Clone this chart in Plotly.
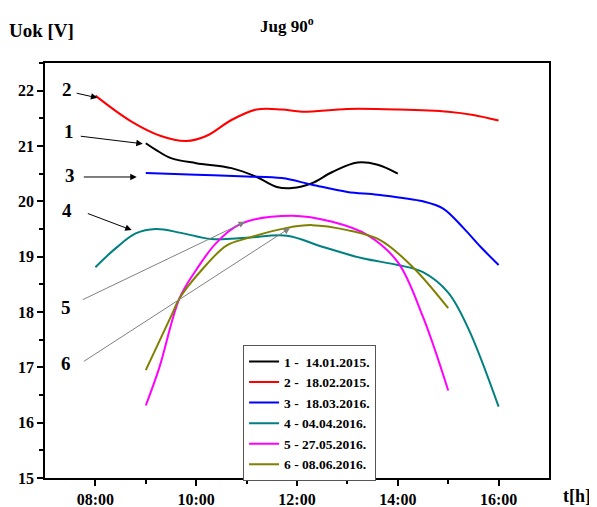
import plotly.graph_objects as go

# ---- data (hours, volts) ----
labels = ["1 - \u00a014.01.2015.", "2 - \u00a018.02.2015.", "3 - \u00a018.03.2016.",
          "4 - 04.04.2016.", "5 - 27.05.2016.", "6 - 08.06.2016."]
colors = ["#000000", "#ff0000", "#0000ff", "#008080", "#ff00ff", "#808000"]

t1 = [9.0, 9.2, 9.5, 10.0, 10.7, 11.2, 11.6, 11.9, 12.3, 12.7, 13.2, 13.6, 14.0]
u1 = [21.05, 20.93, 20.78, 20.69, 20.60, 20.44, 20.26, 20.24, 20.33, 20.53, 20.70, 20.66, 20.50]

t2 = [8.0, 8.7, 9.3, 9.8, 10.2, 10.7, 11.2, 11.7, 12.1, 13.0, 14.0, 15.0, 15.5, 16.0]
u2 = [21.91, 21.45, 21.18, 21.09, 21.18, 21.47, 21.66, 21.66, 21.62, 21.67, 21.66, 21.62, 21.56, 21.46]

t3 = [9.0, 10.0, 11.0, 11.7, 12.3, 13.0, 13.6, 14.5, 14.9, 15.3, 15.65, 16.0]
u3 = [20.51, 20.48, 20.45, 20.42, 20.30, 20.17, 20.12, 20.00, 19.87, 19.52, 19.17, 18.85]

t4 = [8.0, 8.4, 8.8, 9.2, 9.7, 10.3, 11.0, 11.8, 12.5, 13.3, 14.0, 14.5, 15.0, 15.4, 16.0]
u4 = [18.81, 19.15, 19.42, 19.50, 19.43, 19.32, 19.34, 19.38, 19.18, 18.97, 18.85, 18.72, 18.35, 17.70, 16.29]

t5 = [9.0, 9.27, 9.67, 10.0, 10.4, 10.9, 11.9, 12.7, 13.4, 14.0, 14.5, 15.0]
u5 = [16.31, 17.00, 18.25, 18.76, 19.25, 19.60, 19.74, 19.63, 19.39, 18.90, 17.91, 16.58]

t6 = [9.0, 9.53, 9.67, 10.1, 10.6, 11.0, 11.8, 12.3, 13.0, 13.65, 14.3, 15.0]
u6 = [16.95, 17.98, 18.25, 18.75, 19.20, 19.33, 19.52, 19.57, 19.48, 19.30, 18.81, 18.07]

xtick_vals = [8, 10, 12, 14, 16]
xtick_text = ["08:00", "10:00", "12:00", "14:00", "16:00"]
ytick_vals = [15, 16, 17, 18, 19, 20, 21, 22]

series = [(t1, u1), (t2, u2), (t3, u3), (t4, u4), (t5, u5), (t6, u6)]

# curve-number labels and their pointer arrows (data coords)
num_text = ["2", "1", "3", "4", "5", "6"]
num_pos = [(7.44, 22.02), (7.48, 21.26), (7.50, 20.46), (7.44, 19.83), (7.42, 18.09), (7.42, 17.07)]
arr_tail = [(7.60, 21.96), (7.68, 21.18), (7.74, 20.44), (7.82, 19.79), (7.72, 18.21), (7.74, 17.09)]
arr_head = [(8.04, 21.87), (8.94, 21.04), (8.82, 20.44), (8.72, 19.48), (10.97, 19.63), (11.86, 19.52)]
arr_color = ["#000000", "#000000", "#000000", "#000000", "#808080", "#808080"]

FONT = "Liberation Serif"

fig = go.Figure()
for (t, u), name, c in zip(series, labels, colors):
    fig.add_trace(go.Scatter(x=t, y=u, mode="lines", name="<b>%s</b>" % name,
                             line=dict(color=c, width=2, shape="spline", smoothing=1.0)))

for txt, (x, y) in zip(num_text, num_pos):
    fig.add_annotation(x=x, y=y, xref="x", yref="y", text="<b>%s</b>" % txt, showarrow=False,
                       font=dict(family=FONT, size=19, color="#000"))
for (ax, ay), (x, y), c in zip(arr_tail, arr_head, arr_color):
    fig.add_annotation(x=x, y=y, ax=ax, ay=ay, xref="x", yref="y", axref="x", ayref="y",
                       text=" ", showarrow=True, arrowhead=2, arrowsize=1.3, arrowwidth=1,
                       arrowcolor=c, font=dict(size=1))

fig.add_annotation(text="<b>Jug 90<sup>o</sup></b>", x=0.48, y=1.0, xref="paper", yref="paper",
                   xanchor="center", yanchor="bottom", yshift=25, showarrow=False,
                   font=dict(family=FONT, size=17, color="#000"))
fig.add_annotation(text="<b>Uok [V]</b>", x=0, y=1.0, xref="paper", yref="paper",
                   xanchor="left", yanchor="bottom", xshift=-38, yshift=20, showarrow=False,
                   font=dict(family=FONT, size=19, color="#000"))
fig.add_annotation(text="<b>t[h]</b>", x=1.0, y=0, xref="paper", yref="paper",
                   xanchor="left", yanchor="top", xshift=12, yshift=-6, showarrow=False,
                   font=dict(family=FONT, size=18, color="#000"))

fig.update_layout(
    width=597, height=507,
    margin=dict(l=37, r=56, t=55, b=37, autoexpand=False),
    plot_bgcolor="white", paper_bgcolor="white",
    showlegend=True,
    legend=dict(x=0.393, y=0.32, xanchor="left", yanchor="top",
                bgcolor="white", bordercolor="#555", borderwidth=1,
                font=dict(family=FONT, size=13.5, color="#000"),
                tracegroupgap=0, itemwidth=30),
    font=dict(family=FONT, color="#000"),
)
fig.update_xaxes(range=[7, 17], tickmode="array", tickvals=xtick_vals,
                 ticktext=["<b>%s</b>" % s for s in xtick_text], automargin=False,
                 ticks="outside", ticklen=6, tickwidth=1.5, tickcolor="#000",
                 minor=dict(tickvals=[9, 11, 13, 15], ticks="outside", ticklen=4, tickcolor="#000"),
                 showline=True, linecolor="#000", linewidth=1.5, mirror=True,
                 showgrid=False, zeroline=False,
                 tickfont=dict(family=FONT, size=16, color="#000"))
fig.update_yaxes(range=[15, 22.5], tickmode="array", tickvals=ytick_vals,
                 ticktext=["<b>%d</b>" % v for v in ytick_vals], automargin=False,
                 ticks="outside", ticklen=6, tickwidth=1.5, tickcolor="#000",
                 minor=dict(dtick=0.5, ticks="outside", ticklen=4, tickcolor="#000"),
                 showline=True, linecolor="#000", linewidth=1.5, mirror=True,
                 showgrid=False, zeroline=False,
                 tickfont=dict(family=FONT, size=16, color="#000"))

fig.write_html("out.html")
